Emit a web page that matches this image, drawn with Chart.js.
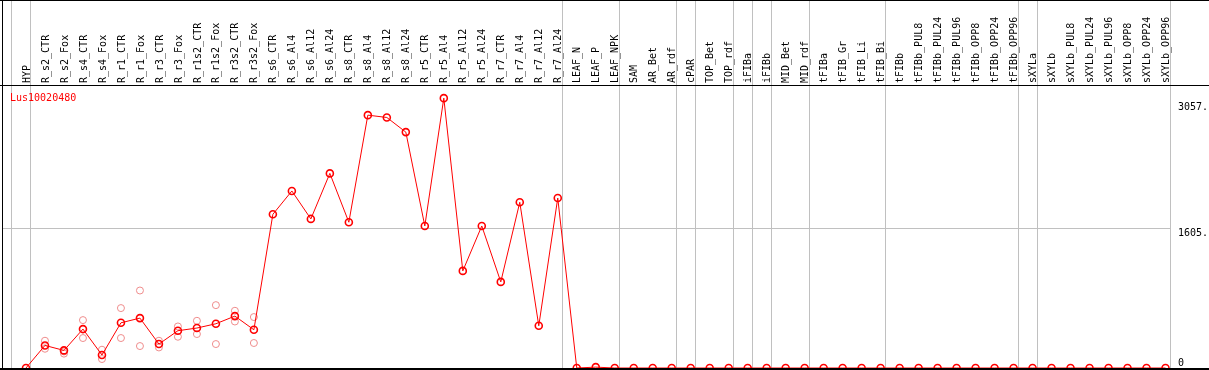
<!DOCTYPE html>
<html>
<head>
<meta charset="utf-8">
<script src="https://cdn.jsdelivr.net/npm/chart.js@4.4.0/dist/chart.umd.min.js"></script>
<style>
    html, body { margin: 0; padding: 0; background: #fff; }
    #wrap { width: 1209px; height: 370px; }
</style>
</head>
<body>
<div id="wrap"><canvas id="expr" width="1209" height="370"></canvas></div>
<script>
// Sample columns, left to right
const samples = [
    'HYP', 'R_s2_CTR', 'R_s2_Fox', 'R_s4_CTR', 'R_s4_Fox', 'R_r1_CTR', 'R_r1_Fox',
    'R_r3_CTR', 'R_r3_Fox', 'R_r1s2_CTR', 'R_r1s2_Fox', 'R_r3s2_CTR', 'R_r3s2_Fox',
    'R_s6_CTR', 'R_s6_Al4', 'R_s6_Al12', 'R_s6_Al24', 'R_s8_CTR', 'R_s8_Al4', 'R_s8_Al12', 'R_s8_Al24',
    'R_r5_CTR', 'R_r5_Al4', 'R_r5_Al12', 'R_r5_Al24', 'R_r7_CTR', 'R_r7_Al4', 'R_r7_Al12', 'R_r7_Al24',
    'LEAF_N', 'LEAF_P', 'LEAF_NPK', 'SAM', 'AR_Bet', 'AR_rdf', 'cPAR', 'TOP_Bet', 'TOP_rdf',
    'iFIBa', 'iFIBb', 'MID_Bet', 'MID_rdf', 'tFIBa', 'tFIB_Gr', 'tFIB_Li', 'tFIB_Bi',
    'tFIBb', 'tFIBb_PUL8', 'tFIBb_PUL24', 'tFIBb_PUL96', 'tFIBb_OPP8', 'tFIBb_OPP24', 'tFIBb_OPP96',
    'sXYLa', 'sXYLb', 'sXYLb_PUL8', 'sXYLb_PUL24', 'sXYLb_PUL96', 'sXYLb_OPP8', 'sXYLb_OPP24', 'sXYLb_OPP96'
];

// Mean expression per column
const meanValues = [
    0, 259, 202, 447, 149, 519, 573, 275, 428, 459, 508, 596, 439,
    1765, 2033, 1712, 2235, 1674, 2904, 2877, 2709,
    1631, 3099, 1115, 1631, 989, 1903, 485, 1952,
    0, 10, 0, 0, 0, 0, 0, 0, 0, 0, 0, 0, 0, 0, 0, 0, 0,
    0, 0, 0, 0, 0, 0, 0, 0, 0, 0, 0, 0, 0, 0, 0
];

// Replicate values (null = none shown)
const rep1 = [
    null, 313, 190, 550, 210, 688, 890, 313, 477, 542, 722, 657, 585,
    ...new Array(48).fill(null)
];
const rep2 = [
    null, 221, 165, 344, 103, 344, 252, 236, 359, 390, 275, 534, 287,
    ...new Array(48).fill(null)
];

// Value axis labels
const yTicks = [0, 1605, 3057];

// Gray separators sit just right of these columns
const groupEnds = [-1, 0, 28, 31, 34, 35, 37, 38, 39, 41, 45, 52, 53, 60];

const geneName = 'Lus10020480';
const monoFont = '"DejaVu Sans Mono", monospace';

function toPoints(arr) {
    return arr.map((v, i) => v === null ? null : { x: i, y: v }).filter(p => p !== null);
}

// Frame, separators, gene name and value labels
const framePlugin = {
    id: 'framePlugin',
    beforeDatasetsDraw(chart) {
        const { ctx, chartArea, scales: { x } } = chart;
        ctx.save();
        ctx.strokeStyle = '#c0c0c0';
        ctx.lineWidth = 1;
        groupEnds.forEach(i => {
            const px = Math.round(x.getPixelForValue(i + 0.225)) + 0.5;
            ctx.beginPath();
            ctx.moveTo(px, 0);
            ctx.lineTo(px, chartArea.bottom);
            ctx.stroke();
        });
        ctx.restore();
    },
    afterDatasetsDraw(chart) {
        const { ctx, chartArea, scales: { y } } = chart;
        ctx.save();
        ctx.fillStyle = '#000';
        ctx.fillRect(0, 0, chart.width, 1);
        ctx.fillRect(0, chartArea.top, chart.width, 1);
        ctx.fillRect(0, chartArea.bottom, chart.width, 2);
        ctx.fillRect(chartArea.left, 0, 1, chartArea.bottom);

        ctx.font = '10px ' + monoFont;
        ctx.textBaseline = 'alphabetic';
        ctx.textAlign = 'left';
        yTicks.forEach(v => {
            const py = y.getPixelForValue(v);
            const label = v === 0 ? '0' : v + '.';
            ctx.fillText(label, chartArea.right + 8, v === 0 ? py - 2 : py + 8);
        });

        ctx.fillStyle = '#ff0000';
        ctx.fillText(geneName, 10, 101);
        ctx.restore();
    }
};

const ctx = document.getElementById('expr').getContext('2d');
const exprChart = new Chart(ctx, {
    type: 'line',
    data: {
        datasets: [
            {
                data: toPoints(meanValues),
                borderColor: '#ff0000',
                borderWidth: 1,
                pointRadius: 3.5,
                pointBorderWidth: 1.6,
                pointBorderColor: '#ff0000',
                pointBackgroundColor: 'rgba(0,0,0,0)',
                tension: 0,
                clip: false
            },
            {
                data: toPoints(rep1),
                showLine: false,
                pointRadius: 3.5,
                pointBorderWidth: 1,
                pointBorderColor: '#ef8c8c',
                pointBackgroundColor: 'rgba(0,0,0,0)',
                clip: false
            },
            {
                data: toPoints(rep2),
                showLine: false,
                pointRadius: 3.5,
                pointBorderWidth: 1,
                pointBorderColor: '#ef8c8c',
                pointBackgroundColor: 'rgba(0,0,0,0)',
                clip: false
            }
        ]
    },
    options: {
        responsive: false,
        animation: false,
        events: [],
        layout: { autoPadding: false, padding: { left: 2, right: 0, top: 0, bottom: 2 } },
        plugins: {
            legend: { display: false },
            tooltip: { enabled: false },
            title: { display: false }
        },
        scales: {
            x: {
                type: 'linear',
                position: 'top',
                min: -1.263,
                max: 60.237,
                afterBuildTicks: s => { s.ticks = samples.map((_, i) => ({ value: i })); },
                afterFit: s => {
                    s.height = 85;
                    s.paddingLeft = 0;
                    s.paddingRight = 0;
                },
                grid: { display: false, drawTicks: false, tickLength: 0 },
                border: { display: false },
                ticks: {
                    autoSkip: false,
                    minRotation: 90,
                    maxRotation: 90,
                    padding: 2,
                    labelOffset: 13,
                    color: '#000',
                    font: { family: monoFont, size: 10 },
                    callback: v => samples[v]
                }
            },
            y: {
                position: 'right',
                min: 0,
                max: 3250,
                afterBuildTicks: s => { s.ticks = yTicks.map(v => ({ value: v })); },
                afterFit: s => { s.width = 39; },
                grid: {
                    drawTicks: false,
                    color: c => (c.tick && c.tick.value === yTicks[1]) ? '#c0c0c0' : 'rgba(0,0,0,0)'
                },
                border: { display: false },
                ticks: { display: false }
            }
        }
    },
    plugins: [framePlugin]
});
</script>
</body>
</html>
